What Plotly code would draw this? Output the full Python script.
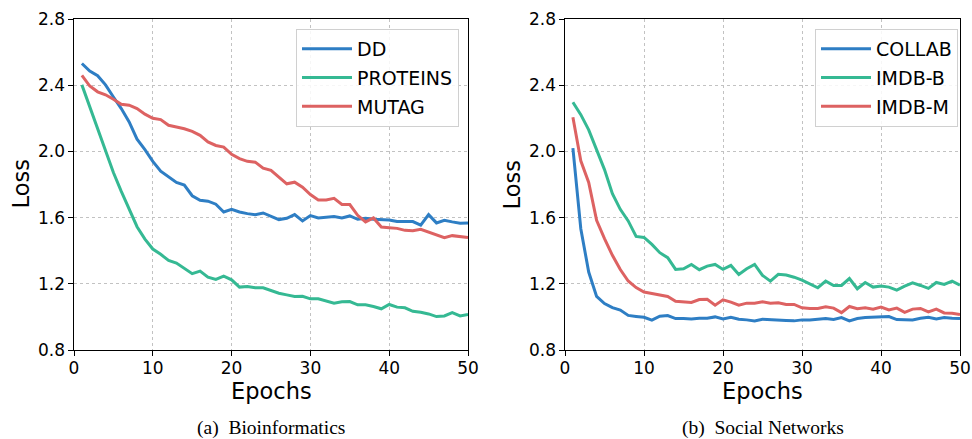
import plotly.graph_objects as go

epochs = list(range(1, 51))

dd = [2.531, 2.485, 2.457, 2.402, 2.329, 2.259, 2.178, 2.074, 2.011, 1.940,
      1.881, 1.845, 1.812, 1.797, 1.732, 1.705, 1.699, 1.681, 1.634, 1.650,
      1.634, 1.624, 1.618, 1.628, 1.608, 1.588, 1.596, 1.618, 1.580, 1.612,
      1.598, 1.600, 1.606, 1.598, 1.610, 1.590, 1.596, 1.590, 1.586, 1.586,
      1.576, 1.576, 1.576, 1.554, 1.618, 1.568, 1.584, 1.574, 1.566, 1.568]
proteins = [2.402, 2.272, 2.140, 2.000, 1.872, 1.758, 1.648, 1.545, 1.470, 1.410,
            1.378, 1.341, 1.325, 1.291, 1.261, 1.277, 1.240, 1.226, 1.246, 1.224,
            1.180, 1.184, 1.176, 1.176, 1.160, 1.143, 1.133, 1.123, 1.125, 1.109,
            1.109, 1.095, 1.083, 1.091, 1.093, 1.073, 1.073, 1.063, 1.049, 1.075,
            1.059, 1.055, 1.034, 1.028, 1.018, 1.002, 1.006, 1.026, 1.006, 1.014]
mutag = [2.459, 2.395, 2.360, 2.342, 2.315, 2.285, 2.279, 2.259, 2.225, 2.200,
         2.192, 2.158, 2.148, 2.137, 2.121, 2.097, 2.057, 2.036, 2.026, 1.982,
         1.956, 1.940, 1.935, 1.899, 1.885, 1.844, 1.804, 1.814, 1.784, 1.739,
         1.707, 1.707, 1.716, 1.679, 1.679, 1.614, 1.574, 1.598, 1.543, 1.539,
         1.535, 1.523, 1.521, 1.529, 1.513, 1.497, 1.479, 1.491, 1.483, 1.479]

collab = [2.020, 1.533, 1.271, 1.124, 1.081, 1.056, 1.041, 1.009, 1.003, 0.998,
          0.980, 1.004, 1.008, 0.990, 0.990, 0.988, 0.992, 0.992, 1.000, 0.988,
          0.998, 0.986, 0.982, 0.976, 0.986, 0.982, 0.978, 0.978, 0.976, 0.982,
          0.982, 0.988, 0.990, 0.984, 0.996, 0.976, 0.990, 0.996, 0.998, 1.000,
          1.002, 0.984, 0.982, 0.982, 0.992, 0.998, 0.988, 0.996, 0.992, 0.990]
imdb_b = [2.297, 2.222, 2.130, 2.012, 1.890, 1.745, 1.650, 1.580, 1.486, 1.480,
          1.438, 1.388, 1.358, 1.287, 1.291, 1.317, 1.285, 1.307, 1.317, 1.287,
          1.311, 1.257, 1.291, 1.317, 1.251, 1.216, 1.257, 1.253, 1.240, 1.222,
          1.200, 1.176, 1.216, 1.190, 1.190, 1.232, 1.170, 1.208, 1.180, 1.186,
          1.180, 1.162, 1.186, 1.206, 1.190, 1.172, 1.208, 1.196, 1.216, 1.192]
imdb_m = [2.206, 1.943, 1.812, 1.583, 1.473, 1.372, 1.286, 1.217, 1.177, 1.150,
          1.141, 1.133, 1.123, 1.095, 1.089, 1.087, 1.105, 1.107, 1.071, 1.103,
          1.089, 1.071, 1.083, 1.083, 1.091, 1.083, 1.085, 1.075, 1.075, 1.055,
          1.051, 1.051, 1.061, 1.053, 1.026, 1.063, 1.049, 1.055, 1.047, 1.059,
          1.042, 1.053, 1.028, 1.047, 1.051, 1.030, 1.047, 1.024, 1.022, 1.014]

x_ticks = [0, 10, 20, 30, 40, 50]
y_ticks = [0.8, 1.2, 1.6, 2.0, 2.4, 2.8]
captions = ["(a)\u00a0\u00a0Bioinformatics", "(b)\u00a0\u00a0Social Networks"]
x_title = "Epochs"
y_title = "Loss"

BLUE = "#2e7ec4"
GREEN = "#35b993"
RED = "#dd6262"

W, H = 972, 439
fig = go.Figure()

left = [("DD", dd, BLUE), ("PROTEINS", proteins, GREEN), ("MUTAG", mutag, RED)]
right = [("COLLAB", collab, BLUE), ("IMDB-B", imdb_b, GREEN), ("IMDB-M", imdb_m, RED)]

for name, vals, col in left:
    fig.add_trace(go.Scatter(x=epochs, y=vals, mode="lines", name=name,
                             line=dict(color=col, width=3), legendgroup=name,
                             xaxis="x", yaxis="y", legend="legend"))
for name, vals, col in right:
    fig.add_trace(go.Scatter(x=epochs, y=vals, mode="lines", name=name,
                             line=dict(color=col, width=3), legendgroup=name,
                             xaxis="x2", yaxis="y2", legend="legend2"))

def px(v):
    return v / W

def py(v):
    return 1 - v / H

tickfont = dict(family="DejaVu Sans", size=17, color="black")
titlefont = dict(family="DejaVu Sans", size=22.5, color="black")
capfont = dict(family="Liberation Serif", size=19.5, color="black")

def xaxis(dom, anchor):
    return dict(domain=dom, anchor=anchor, range=[0, 50], tickvals=x_ticks,
                automargin=False, ticklabelstandoff=-2,
                showline=True, linecolor="black", linewidth=1.2, mirror=True,
                ticks="outside", ticklen=4.5, tickcolor="black", tickwidth=1,
                showgrid=True, gridcolor="#c2c2c2", griddash="dot", gridwidth=1,
                zeroline=False, tickfont=tickfont)

def yaxis(dom, anchor):
    return dict(domain=dom, anchor=anchor, range=[0.8, 2.8], tickvals=y_ticks,
                tickformat=".1f", automargin=False,
                showline=True, linecolor="black", linewidth=1.2, mirror=True,
                ticks="outside", ticklen=4.5, tickcolor="black", tickwidth=1,
                showgrid=True, gridcolor="#c2c2c2", griddash="dot", gridwidth=1,
                zeroline=False, tickfont=tickfont)

ydom = [py(350), py(19)]
legfont = dict(family="DejaVu Sans", size=19, color="black")
leg_common = dict(font=legfont, bgcolor="rgba(255,255,255,0.85)",
                  bordercolor="#d0d0d0", borderwidth=1, xanchor="right",
                  yanchor="top", y=py(29), tracegroupgap=1, itemwidth=50)

ann = []
for cx, cap in [(271, captions[0]), (762.5, captions[1])]:
    ann.append(dict(text=cap, x=px(cx), y=py(428), xref="paper", yref="paper",
                    xanchor="center", yanchor="middle", showarrow=False, font=capfont))
    ann.append(dict(text=x_title, x=px(cx), y=py(391), xref="paper", yref="paper",
                    xanchor="center", yanchor="middle", showarrow=False, font=titlefont))
for lx in [20, 511]:
    ann.append(dict(text=y_title, x=px(lx), y=py(184.5), xref="paper", yref="paper",
                    xanchor="center", yanchor="middle", textangle=-90,
                    showarrow=False, font=titlefont))

fig.update_layout(
    template="none",
    width=W, height=H, margin=dict(l=0, r=0, t=0, b=0, autoexpand=False),
    paper_bgcolor="white", plot_bgcolor="white",
    xaxis=xaxis([px(74), px(468)], "y"),
    yaxis=yaxis(ydom, "x"),
    xaxis2=xaxis([px(565), px(960)], "y2"),
    yaxis2=yaxis(ydom, "x2"),
    legend=dict(x=px(459), **leg_common),
    legend2=dict(x=px(958), **leg_common),
    annotations=ann,
)

fig.write_html("out.html")
